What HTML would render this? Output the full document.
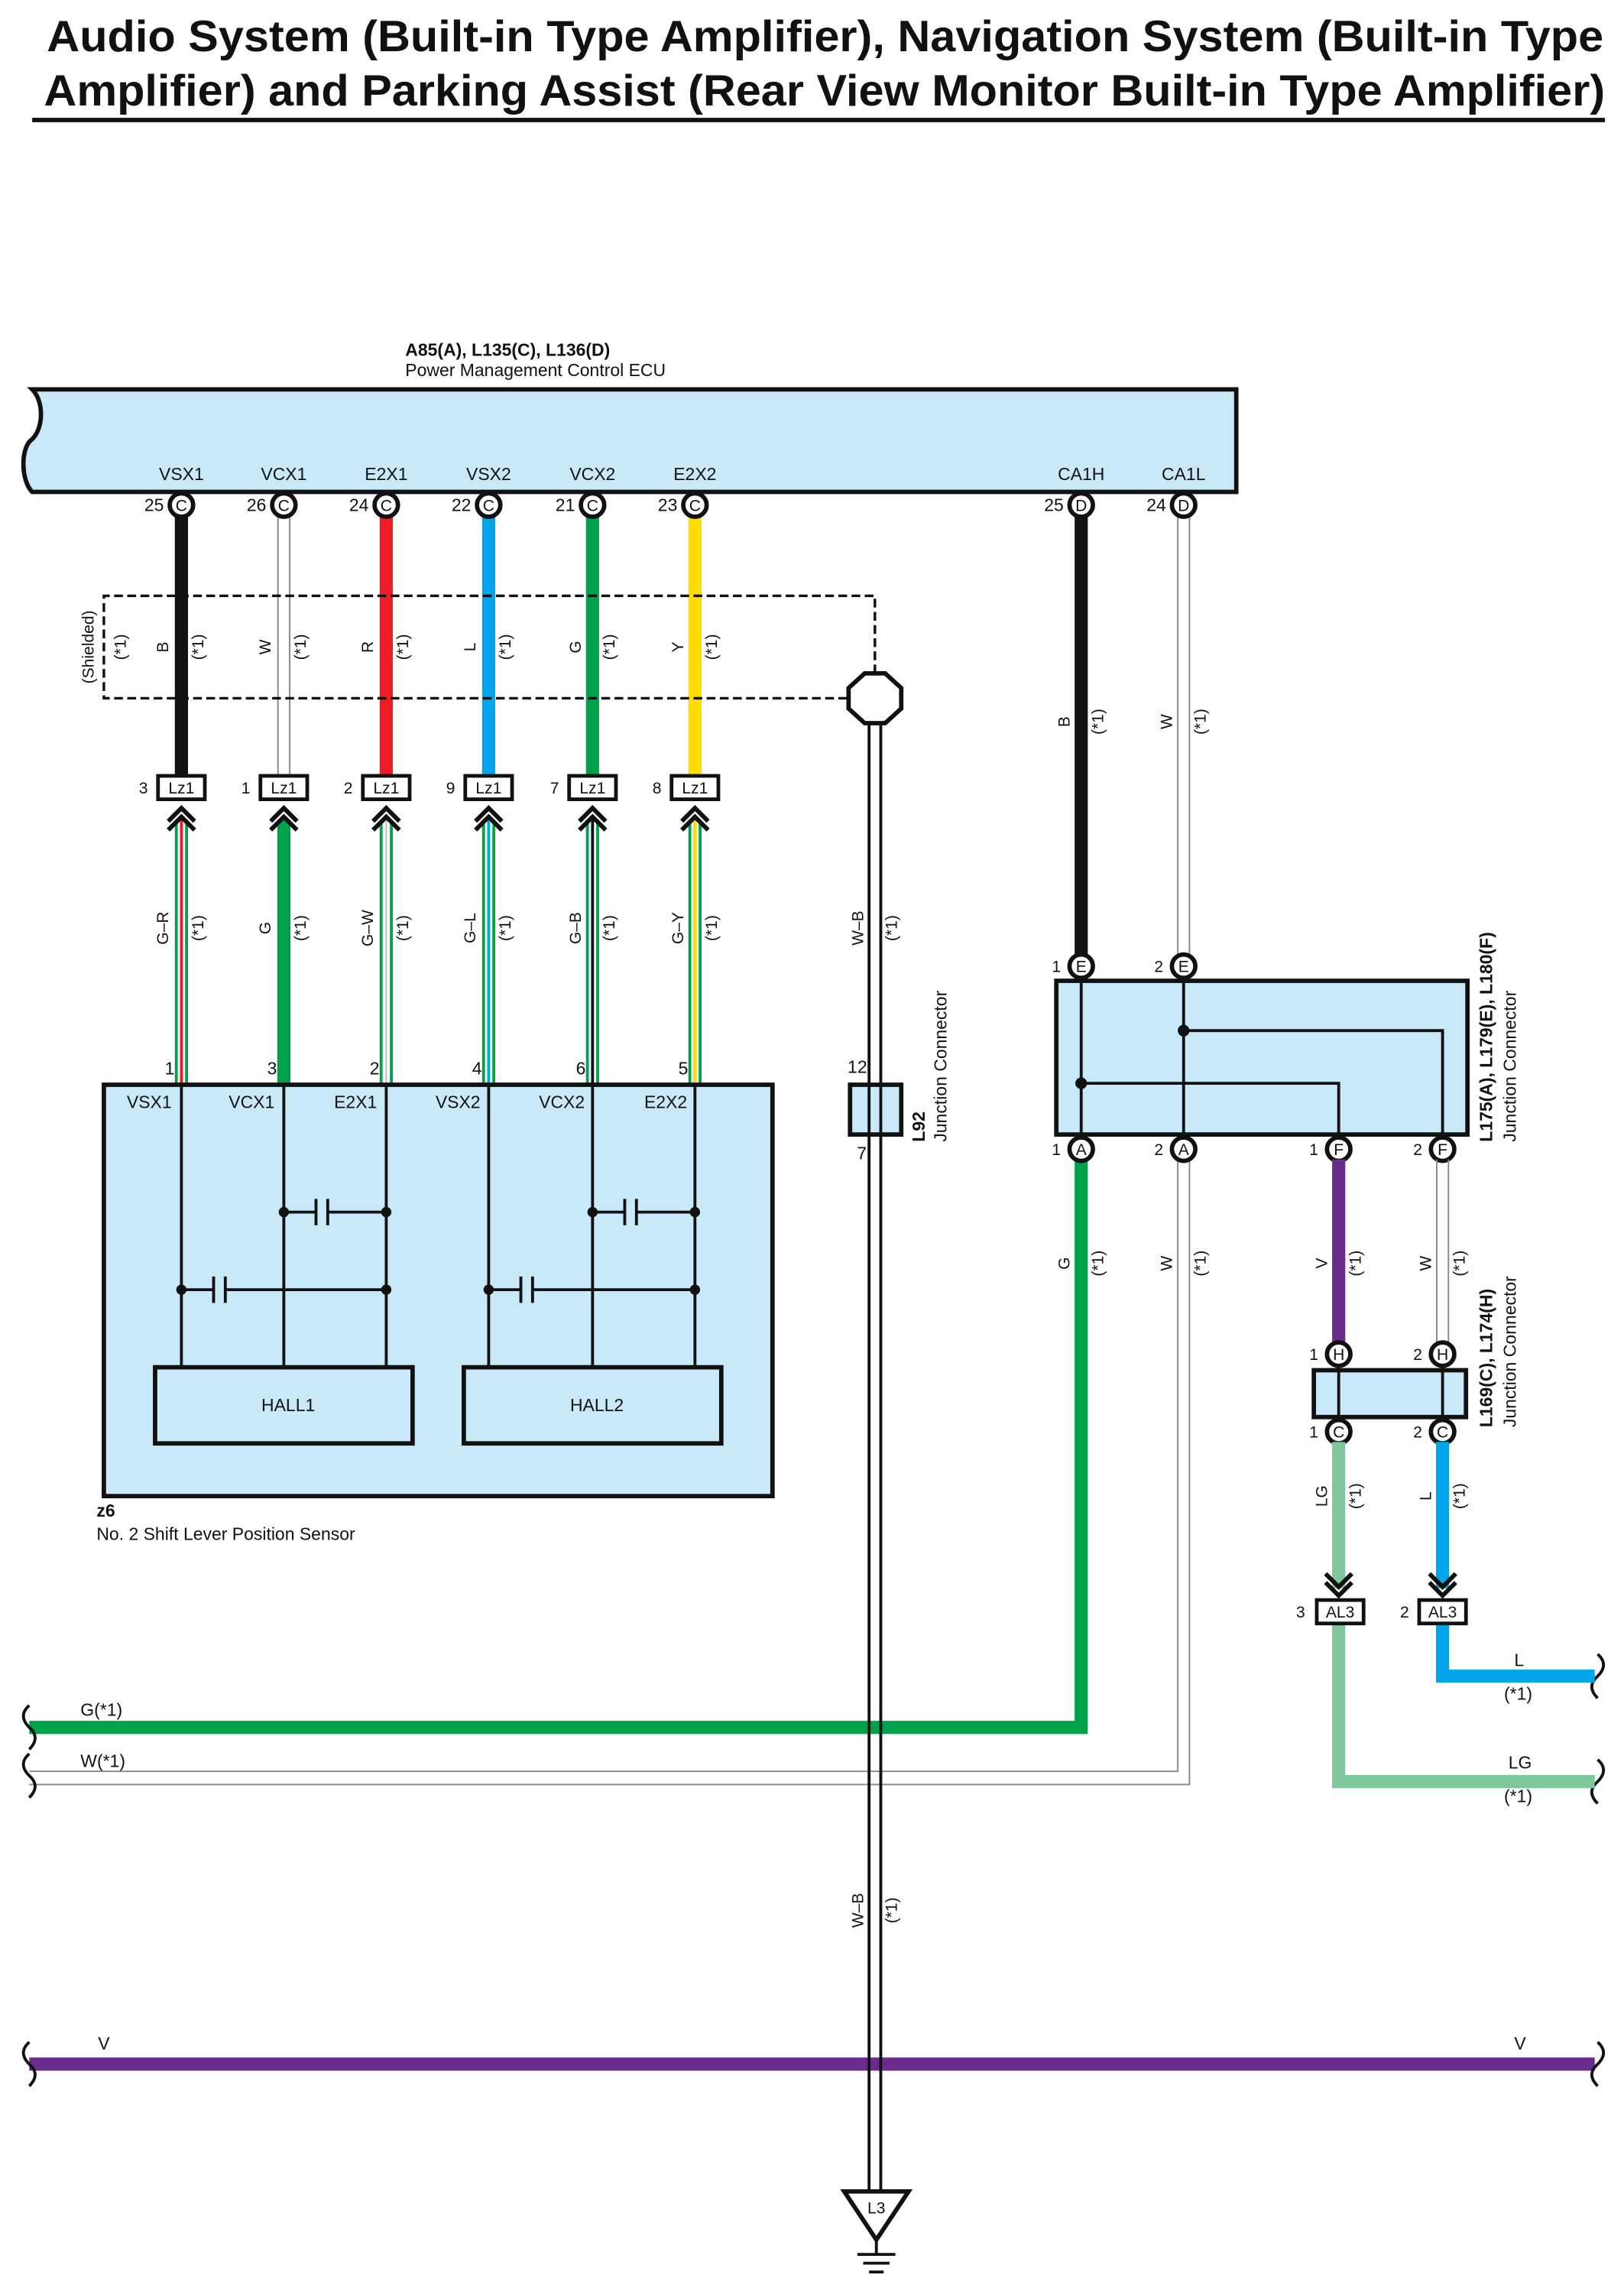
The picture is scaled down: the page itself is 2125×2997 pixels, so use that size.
<!DOCTYPE html>
<html><head><meta charset="utf-8"><style>
html,body{margin:0;padding:0;background:#fff}
svg{display:block}
text{font-family:"Liberation Sans",sans-serif;fill:#111}
</style></head><body>
<svg width="2125" height="2997" viewBox="0 0 1110 1565" preserveAspectRatio="none" xmlns="http://www.w3.org/2000/svg">
<defs>
<g id="pin"><circle r="8" fill="#fff" stroke="#111" stroke-width="3"/></g>
<g id="chev"><path d="M-9,4 L0,-5 L9,4 M-9,10 L0,1 L9,10" fill="none" stroke="#111" stroke-width="3"/></g>
<g id="chevd"><path d="M-9,-4 L0,5 L9,-4 M-9,-10 L0,-1 L9,-10" fill="none" stroke="#111" stroke-width="3"/></g>
</defs>
<!-- Title -->
<text x="32" y="35" font-size="30" font-weight="bold" textLength="1064" lengthAdjust="spacingAndGlyphs">Audio System (Built-in Type Amplifier), Navigation System (Built-in Type</text>
<text x="30" y="72" font-size="30" font-weight="bold" textLength="1067" lengthAdjust="spacingAndGlyphs">Amplifier) and Parking Assist (Rear View Monitor Built-in Type Amplifier)</text>
<line x1="22" y1="82" x2="1097" y2="82" stroke="#111" stroke-width="3"/>

<!-- ECU -->
<text x="277" y="243" font-size="12" font-weight="bold">A85(A), L135(C), L136(D)</text>
<text x="277" y="257" font-size="12">Power Management Control ECU</text>
<path d="M22,266 L845,266 L845,336 L22,336 C14,328 14,305 22,300 C30,292 30,274 22,266 Z" fill="#c9e8f8" stroke="#111" stroke-width="3"/>
<g font-size="12" text-anchor="middle">
<text x="124" y="328">VSX1</text><text x="194" y="328">VCX1</text><text x="264" y="328">E2X1</text>
<text x="334" y="328">VSX2</text><text x="405" y="328">VCX2</text><text x="475" y="328">E2X2</text>
<text x="739" y="328">CA1H</text><text x="809" y="328">CA1L</text>
</g>

<!-- top wires -->
<line x1="124" y1="350" x2="124" y2="530" stroke="#111" stroke-width="9"/>
<line x1="190" y1="350" x2="190" y2="530" stroke="#888" stroke-width="1"/><line x1="198" y1="350" x2="198" y2="530" stroke="#888" stroke-width="1"/>
<line x1="264" y1="350" x2="264" y2="530" stroke="#ee1c25" stroke-width="9"/>
<line x1="334" y1="350" x2="334" y2="530" stroke="#00a6e9" stroke-width="9"/>
<line x1="405" y1="350" x2="405" y2="530" stroke="#00a14b" stroke-width="9"/>
<line x1="475" y1="350" x2="475" y2="530" stroke="#ffdd00" stroke-width="9"/>
<line x1="739" y1="350" x2="739" y2="652" stroke="#111" stroke-width="9"/>
<line x1="805" y1="350" x2="805" y2="652" stroke="#888" stroke-width="1"/><line x1="813" y1="350" x2="813" y2="652" stroke="#888" stroke-width="1"/>

<g font-size="12">
<g text-anchor="end"><text x="112" y="349">25</text><text x="182" y="349">26</text><text x="252" y="349">24</text><text x="322" y="349">22</text><text x="393" y="349">21</text><text x="463" y="349">23</text><text x="727" y="349">25</text><text x="797" y="349">24</text></g>
</g>
<g font-size="11" text-anchor="middle">
<use href="#pin" x="124" y="345"/><text x="124" y="349">C</text>
<use href="#pin" x="194" y="345"/><text x="194" y="349">C</text>
<use href="#pin" x="264" y="345"/><text x="264" y="349">C</text>
<use href="#pin" x="334" y="345"/><text x="334" y="349">C</text>
<use href="#pin" x="405" y="345"/><text x="405" y="349">C</text>
<use href="#pin" x="475" y="345"/><text x="475" y="349">C</text>
<use href="#pin" x="739" y="345"/><text x="739" y="349">D</text>
<use href="#pin" x="809" y="345"/><text x="809" y="349">D</text>
</g>

<!-- shield -->
<path d="M598,460 L598,407 L71,407 L71,477 L582,477" fill="none" stroke="#111" stroke-width="1.8" stroke-dasharray="6,3"/>
<polygon points="591,460 605,460 616,470 616,484 605,494 591,494 580,484 580,470" fill="#fff" stroke="#111" stroke-width="3"/>
<text transform="translate(64,442) rotate(-90)" font-size="11" text-anchor="middle">(Shielded)</text>
<text transform="translate(86,442) rotate(-90)" font-size="11" text-anchor="middle">(*1)</text>
<g font-size="11" text-anchor="middle">
<text transform="translate(115,442) rotate(-90)">B</text><text transform="translate(139,442) rotate(-90)">(*1)</text>
<text transform="translate(185,442) rotate(-90)">W</text><text transform="translate(209,442) rotate(-90)">(*1)</text>
<text transform="translate(255,442) rotate(-90)">R</text><text transform="translate(279,442) rotate(-90)">(*1)</text>
<text transform="translate(325,442) rotate(-90)">L</text><text transform="translate(349,442) rotate(-90)">(*1)</text>
<text transform="translate(397,442) rotate(-90)">G</text><text transform="translate(420,442) rotate(-90)">(*1)</text>
<text transform="translate(467,442) rotate(-90)">Y</text><text transform="translate(490,442) rotate(-90)">(*1)</text>
<text transform="translate(731,493) rotate(-90)">B</text><text transform="translate(754,493) rotate(-90)">(*1)</text>
<text transform="translate(801,493) rotate(-90)">W</text><text transform="translate(824,493) rotate(-90)">(*1)</text>
</g>

<!-- Lz1 connectors -->
<g font-size="11" text-anchor="middle">
<g><rect x="108" y="530" width="32" height="16" fill="#fff" stroke="#111" stroke-width="2.5"/><text x="124" y="542">Lz1</text><text x="98" y="542">3</text></g>
<g><rect x="178" y="530" width="32" height="16" fill="#fff" stroke="#111" stroke-width="2.5"/><text x="194" y="542">Lz1</text><text x="168" y="542">1</text></g>
<g><rect x="248" y="530" width="32" height="16" fill="#fff" stroke="#111" stroke-width="2.5"/><text x="264" y="542">Lz1</text><text x="238" y="542">2</text></g>
<g><rect x="318" y="530" width="32" height="16" fill="#fff" stroke="#111" stroke-width="2.5"/><text x="334" y="542">Lz1</text><text x="308" y="542">9</text></g>
<g><rect x="389" y="530" width="32" height="16" fill="#fff" stroke="#111" stroke-width="2.5"/><text x="405" y="542">Lz1</text><text x="379" y="542">7</text></g>
<g><rect x="459" y="530" width="32" height="16" fill="#fff" stroke="#111" stroke-width="2.5"/><text x="475" y="542">Lz1</text><text x="449" y="542">8</text></g>
</g>

<!-- lower striped wires -->
<g>
<line x1="124" y1="560" x2="124" y2="740" stroke="#00a14b" stroke-width="9"/><line x1="124" y1="560" x2="124" y2="740" stroke="#fff" stroke-width="5"/><line x1="124" y1="560" x2="124" y2="740" stroke="#ee1c25" stroke-width="2"/>
<line x1="194" y1="560" x2="194" y2="740" stroke="#00a14b" stroke-width="9"/>
<line x1="264" y1="560" x2="264" y2="740" stroke="#00a14b" stroke-width="9"/><line x1="264" y1="560" x2="264" y2="740" stroke="#fff" stroke-width="5"/><line x1="264" y1="560" x2="264" y2="740" stroke="#bbb" stroke-width="1"/>
<line x1="334" y1="560" x2="334" y2="740" stroke="#00a14b" stroke-width="9"/><line x1="334" y1="560" x2="334" y2="740" stroke="#fff" stroke-width="5"/><line x1="334" y1="560" x2="334" y2="740" stroke="#00a6e9" stroke-width="2"/>
<line x1="405" y1="560" x2="405" y2="740" stroke="#00a14b" stroke-width="9"/><line x1="405" y1="560" x2="405" y2="740" stroke="#fff" stroke-width="5"/><line x1="405" y1="560" x2="405" y2="740" stroke="#111" stroke-width="2"/>
<line x1="475" y1="560" x2="475" y2="740" stroke="#00a14b" stroke-width="9"/><line x1="475" y1="560" x2="475" y2="740" stroke="#fff" stroke-width="5"/><line x1="475" y1="560" x2="475" y2="740" stroke="#ffdd00" stroke-width="2.5"/>
</g>
<use href="#chev" x="124" y="557"/><use href="#chev" x="194" y="557"/><use href="#chev" x="264" y="557"/>
<use href="#chev" x="334" y="557"/><use href="#chev" x="405" y="557"/><use href="#chev" x="475" y="557"/>
<g font-size="11" text-anchor="middle">
<text transform="translate(115,634) rotate(-90)">G–R</text><text transform="translate(139,634) rotate(-90)">(*1)</text>
<text transform="translate(185,634) rotate(-90)">G</text><text transform="translate(209,634) rotate(-90)">(*1)</text>
<text transform="translate(255,634) rotate(-90)">G–W</text><text transform="translate(279,634) rotate(-90)">(*1)</text>
<text transform="translate(325,634) rotate(-90)">G–L</text><text transform="translate(349,634) rotate(-90)">(*1)</text>
<text transform="translate(397,634) rotate(-90)">G–B</text><text transform="translate(420,634) rotate(-90)">(*1)</text>
<text transform="translate(467,634) rotate(-90)">G–Y</text><text transform="translate(490,634) rotate(-90)">(*1)</text>
<text transform="translate(590,634) rotate(-90)">W–B</text><text transform="translate(613,634) rotate(-90)">(*1)</text>
<text transform="translate(590,1305) rotate(-90)">W–B</text><text transform="translate(613,1305) rotate(-90)">(*1)</text>
</g>

<!-- Sensor -->
<rect x="71" y="741" width="457" height="281" fill="#c9e8f8" stroke="#111" stroke-width="3"/>
<g font-size="12" text-anchor="middle">
<text x="116" y="734">1</text><text x="186" y="734">3</text><text x="256" y="734">2</text><text x="326" y="734">4</text><text x="397" y="734">6</text><text x="467" y="734">5</text>
<text x="102" y="757">VSX1</text><text x="172" y="757">VCX1</text><text x="243" y="757">E2X1</text><text x="313" y="757">VSX2</text><text x="384" y="757">VCX2</text><text x="455" y="757">E2X2</text>
</g>
<g stroke="#111" stroke-width="2" fill="none">
<line x1="124" y1="741" x2="124" y2="934"/><line x1="194" y1="741" x2="194" y2="934"/><line x1="264" y1="741" x2="264" y2="934"/>
<line x1="334" y1="741" x2="334" y2="934"/><line x1="405" y1="741" x2="405" y2="934"/><line x1="475" y1="741" x2="475" y2="934"/>
<path d="M124,881 H146 M154,881 H264 M146,872 V890 M154,872 V890"/>
<path d="M194,828 H216 M224,828 H264 M216,819 V837 M224,819 V837"/>
<path d="M334,881 H356 M364,881 H475 M356,872 V890 M364,872 V890"/>
<path d="M405,828 H427 M435,828 H475 M427,819 V837 M435,819 V837"/>
</g>
<g fill="#111"><circle cx="124" cy="881" r="3.5"/><circle cx="264" cy="881" r="3.5"/><circle cx="194" cy="828" r="3.5"/><circle cx="264" cy="828" r="3.5"/>
<circle cx="334" cy="881" r="3.5"/><circle cx="475" cy="881" r="3.5"/><circle cx="405" cy="828" r="3.5"/><circle cx="475" cy="828" r="3.5"/></g>
<rect x="106" y="934" width="176" height="52" fill="#c9e8f8" stroke="#111" stroke-width="3"/>
<rect x="317" y="934" width="176" height="52" fill="#c9e8f8" stroke="#111" stroke-width="3"/>
<text x="197" y="964" font-size="12" text-anchor="middle">HALL1</text>
<text x="408" y="964" font-size="12" text-anchor="middle">HALL2</text>
<text x="66" y="1036" font-size="12" font-weight="bold">z6</text>
<text x="66" y="1052" font-size="12">No.  2 Shift Lever Position Sensor</text>

<!-- horizontal buses -->
<polyline points="20,1180 739,1180 739,790" fill="none" stroke="#00a14b" stroke-width="9"/>
<polyline points="20,1210 805,1210 805,790" fill="none" stroke="#888" stroke-width="1"/>
<polyline points="20,1219 813,1219 813,790" fill="none" stroke="#888" stroke-width="1"/>
<line x1="20" y1="1410" x2="1090" y2="1410" stroke="#6a2a8e" stroke-width="9"/>
<g fill="none" stroke="#111" stroke-width="2">
<path d="M20,1165 q-8,7 0,15 q8,7 0,15"/><path d="M20,1198 q-8,7 0,15 q8,7 0,15"/><path d="M20,1395 q-8,7 0,15 q8,7 0,15"/>
<path d="M1092,1130 q8,7 0,15 q-8,7 0,15"/><path d="M1092,1202 q8,7 0,15 q-8,7 0,15"/><path d="M1092,1395 q8,7 0,15 q-8,7 0,15"/>
</g>
<g font-size="12"><text x="55" y="1172">G(*1)</text><text x="55" y="1207">W(*1)</text><text x="67" y="1400">V</text><text x="1035" y="1400">V</text>
<text x="1035" y="1138">L</text><text x="1028" y="1161">(*1)</text><text x="1031" y="1208">LG</text><text x="1028" y="1231">(*1)</text></g>

<!-- W-B ground wire -->
<line x1="594" y1="494" x2="594" y2="1497" stroke="#111" stroke-width="2"/>
<line x1="602" y1="494" x2="602" y2="1497" stroke="#111" stroke-width="2"/>
<rect x="581" y="741" width="35" height="34" fill="#c9e8f8" stroke="#111" stroke-width="3"/>
<line x1="594" y1="741" x2="594" y2="775" stroke="#111" stroke-width="2"/><line x1="602" y1="741" x2="602" y2="775" stroke="#111" stroke-width="2"/>
<text x="586" y="733" font-size="12" text-anchor="middle">12</text><text x="589" y="792" font-size="12" text-anchor="middle">7</text>
<text transform="translate(632,780) rotate(-90)" font-size="12" font-weight="bold">L92</text>
<text transform="translate(647,780) rotate(-90)" font-size="12">Junction Connector</text>
<polygon points="577,1497 621,1497 599,1530" fill="#fff" stroke="#111" stroke-width="3"/>
<text x="599" y="1512" font-size="11" text-anchor="middle">L3</text>
<g stroke="#111" stroke-width="2"><line x1="599" y1="1530" x2="599" y2="1540"/><line x1="586" y1="1540" x2="612" y2="1540"/><line x1="590" y1="1546" x2="608" y2="1546"/><line x1="594" y1="1552" x2="604" y2="1552"/></g>

<!-- Junction L175 -->
<rect x="722" y="670" width="281" height="105" fill="#c9e8f8" stroke="#111" stroke-width="3"/>
<g stroke="#111" stroke-width="2" fill="none">
<line x1="739" y1="665" x2="739" y2="780"/><line x1="809" y1="665" x2="809" y2="780"/>
<polyline points="739,740 915,740 915,780"/><polyline points="809,704 986,704 986,780"/>
</g>
<circle cx="739" cy="740" r="4" fill="#111"/><circle cx="809" cy="704" r="4" fill="#111"/>
<g font-size="11" text-anchor="middle">
<use href="#pin" x="739" y="660"/><text x="739" y="664">E</text><text x="722" y="664">1</text>
<use href="#pin" x="809" y="660"/><text x="809" y="664">E</text><text x="792" y="664">2</text>
<use href="#pin" x="739" y="785"/><text x="739" y="789">A</text><text x="722" y="789">1</text>
<use href="#pin" x="809" y="785"/><text x="809" y="789">A</text><text x="792" y="789">2</text>
<use href="#pin" x="915" y="785"/><text x="915" y="789">F</text><text x="898" y="789">1</text>
<use href="#pin" x="986" y="785"/><text x="986" y="789">F</text><text x="969" y="789">2</text>
</g>
<text transform="translate(1020,780) rotate(-90)" font-size="12" font-weight="bold">L175(A), L179(E), L180(F)</text>
<text transform="translate(1036,780) rotate(-90)" font-size="12">Junction Connector</text>
<g font-size="11" text-anchor="middle">
<text transform="translate(731,863) rotate(-90)">G</text><text transform="translate(754,863) rotate(-90)">(*1)</text>
<text transform="translate(801,863) rotate(-90)">W</text><text transform="translate(824,863) rotate(-90)">(*1)</text>
<text transform="translate(907,863) rotate(-90)">V</text><text transform="translate(930,863) rotate(-90)">(*1)</text>
<text transform="translate(978,863) rotate(-90)">W</text><text transform="translate(1001,863) rotate(-90)">(*1)</text>
<text transform="translate(907,1022) rotate(-90)">LG</text><text transform="translate(930,1022) rotate(-90)">(*1)</text>
<text transform="translate(978,1022) rotate(-90)">L</text><text transform="translate(1001,1022) rotate(-90)">(*1)</text>
</g>

<!-- F wires -->
<line x1="915" y1="792" x2="915" y2="918" stroke="#6a2a8e" stroke-width="9"/>
<line x1="982" y1="792" x2="982" y2="918" stroke="#888" stroke-width="1"/><line x1="990" y1="792" x2="990" y2="918" stroke="#888" stroke-width="1"/>
<rect x="898" y="936" width="104" height="32" fill="#c9e8f8" stroke="#111" stroke-width="3"/>
<line x1="915" y1="930" x2="915" y2="972" stroke="#111" stroke-width="2"/><line x1="986" y1="930" x2="986" y2="972" stroke="#111" stroke-width="2"/>
<g font-size="11" text-anchor="middle">
<use href="#pin" x="915" y="925"/><text x="915" y="929">H</text><text x="898" y="929">1</text>
<use href="#pin" x="986" y="925"/><text x="986" y="929">H</text><text x="969" y="929">2</text>
<use href="#pin" x="915" y="978"/><text x="915" y="982">C</text><text x="898" y="982">1</text>
<use href="#pin" x="986" y="978"/><text x="986" y="982">C</text><text x="969" y="982">2</text>
</g>
<text transform="translate(1020,975) rotate(-90)" font-size="12" font-weight="bold">L169(C), L174(H)</text>
<text transform="translate(1036,975) rotate(-90)" font-size="12">Junction Connector</text>

<line x1="915" y1="985" x2="915" y2="1085" stroke="#7ec79a" stroke-width="9"/>
<line x1="986" y1="985" x2="986" y2="1085" stroke="#00a6e9" stroke-width="9"/>
<use href="#chevd" x="915" y="1085"/><use href="#chevd" x="986" y="1085"/>
<polyline points="915,1110 915,1217 1090,1217" fill="none" stroke="#7ec79a" stroke-width="9"/>
<polyline points="986,1110 986,1145 1090,1145" fill="none" stroke="#00a6e9" stroke-width="9"/>
<g font-size="11" text-anchor="middle">
<rect x="900" y="1093" width="32" height="16" fill="#fff" stroke="#111" stroke-width="2.5"/><text x="916" y="1105">AL3</text><text x="889" y="1105">3</text>
<rect x="970" y="1093" width="32" height="16" fill="#fff" stroke="#111" stroke-width="2.5"/><text x="986" y="1105">AL3</text><text x="960" y="1105">2</text>
</g>
</svg>
</body></html>
